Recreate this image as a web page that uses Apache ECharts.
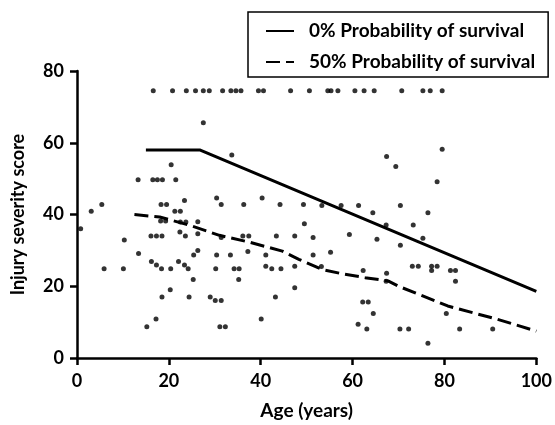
<!DOCTYPE html>
<html>
<head>
<meta charset="utf-8">
<script src="https://cdn.jsdelivr.net/npm/echarts@6/dist/echarts.min.js"></script>
<style>
  html, body { margin: 0; padding: 0; background: #fff; }
  #chart { width: 555px; height: 425px; }
</style>
</head>
<body>
<div id="chart"></div>
<script>
// patients: age (years) and injury severity score
var patientAge = [
    16.6, 20.8, 23.8, 25.8, 27.5, 28.8, 31.7, 33.5, 34.6, 35.7, 39.5, 40.6, 46.5, 50.6, 54.6, 55.3, 56.8, 60.5, 62.5, 64.7, 70.7, 75.3, 76.9, 79.5,
    27.5, 33.7, 20.5, 13.3, 16.5, 17.5, 18.6, 21.5,
    5.4, 18.3, 19.5, 31.4, 36.3, 44.2, 49.3, 23.4, 30.4, 40.3,
    3.1, 21.3, 22.5, 0.8, 18.2, 19.3, 22.5, 23.7, 26.3, 22.4, 26.3,
    16.1, 17.3, 18.5, 23.6, 31.4, 36.1, 37.4, 43.4, 47.4, 49.5, 10.3,
    26.3, 37.2, 13.4, 25.4, 30.4, 33.4, 41.1, 16.2, 22.1, 17.3, 23.4, 41.1, 47.4,
    5.9, 10.1, 18.4, 20.4, 24.2, 30.2, 34.2, 35.3, 42.4, 44.4,
    25.3, 35.2, 47.4, 20.3, 18.5, 24.4, 29.0, 43.2, 30.1, 31.4, 17.2, 40.1, 15.2, 31.1, 32.3,
    67.4, 69.4, 79.5, 78.4, 53.3, 57.5, 61.3, 70.4, 64.4, 76.4, 67.3, 73.2,
    59.3, 51.4, 65.3, 75.3, 70.4, 55.2, 51.4, 53.2, 73.0, 74.3, 77.2, 78.4,
    62.3, 77.2, 81.3, 82.4, 67.4, 67.3, 82.4, 62.2, 63.4, 64.5, 80.4, 61.2,
    63.1, 70.3, 72.2, 83.3, 90.5, 76.4
];
var patientIss = [
    74.5, 74.5, 74.5, 74.5, 74.5, 74.5, 74.5, 74.5, 74.5, 74.5, 74.5, 74.5, 74.5, 74.5, 74.5, 74.5, 74.5, 74.5, 74.5, 74.5, 74.5, 74.5, 74.5, 74.5,
    65.6, 56.6, 53.9, 49.7, 49.7, 49.7, 49.7, 49.7,
    42.8, 42.8, 42.8, 42.8, 42.8, 42.8, 42.8, 43.9, 44.6, 44.6,
    40.9, 40.9, 40.9, 36.0, 38.2, 38.2, 37.9, 37.9, 38.0, 35.1, 34.6,
    34.0, 34.0, 34.0, 34.0, 33.6, 34.0, 34.0, 34.0, 34.0, 37.4, 32.9,
    30.0, 29.7, 29.1, 28.7, 28.7, 28.7, 28.7, 26.9, 26.9, 25.9, 25.9, 25.6, 25.6,
    24.9, 24.9, 24.9, 24.9, 24.9, 24.9, 24.9, 24.9, 24.9, 24.9,
    21.9, 21.9, 19.6, 19.0, 17.0, 17.0, 17.0, 17.0, 16.0, 16.0, 10.9, 10.9, 8.7, 8.7, 8.7,
    56.2, 53.4, 58.2, 49.1, 42.5, 42.5, 42.5, 42.5, 40.5, 40.5, 37.1, 37.1,
    34.4, 33.6, 33.1, 33.4, 31.4, 29.5, 28.7, 25.5, 25.6, 25.6, 25.6, 25.6,
    24.4, 24.4, 24.4, 24.4, 23.6, 21.4, 21.4, 15.6, 15.6, 12.4, 12.4, 9.4,
    8.1, 8.1, 8.1, 8.1, 8.1, 4.1
];

// 0% probability of survival
var solidAge = [15, 26.7, 100];
var solidIss = [58, 58, 18.6];

// 50% probability of survival
var dashedAge = [12.5, 18, 24.5, 31, 37.5, 44.7, 48.3, 53.3, 57.6, 62.7, 67.7, 70, 80.7, 91.5, 100];
var dashedIss = [40, 39.3, 37, 34.2, 32.3, 29.8, 27.5, 24.7, 23.5, 22.4, 21.5, 20, 14.5, 10.8, 7.5];

var seriesNames = ['0% Probability of survival', '50% Probability of survival'];
var xTicks = { min: 0, max: 100, step: 20 };
var yTicks = { min: 0, max: 80, step: 20 };

function pairs(xs, ys) {
    return xs.map(function (x, i) { return [x, ys[i]]; });
}

var font = 'Lato';
var chart = echarts.init(document.getElementById('chart'), null, { renderer: 'canvas' });

var option = {
    backgroundColor: '#fff',
    animation: false,
    textStyle: { fontFamily: font, color: '#000' },
    grid: { left: 77, right: 14, top: 71, bottom: 66 },
    legend: {
        data: seriesNames,
        orient: 'vertical',
        left: 248,
        top: 12,
        padding: [9, 13, 5, 17],
        itemWidth: 28,
        itemHeight: 14,
        itemGap: 11,
        borderColor: '#000',
        borderWidth: 1.5,
        borderRadius: 0,
        selectedMode: false,
        // hide the point marker, keep only the line sample
        itemStyle: { color: 'rgba(0,0,0,0)', borderWidth: 0 },
        textStyle: {
            fontFamily: font,
            fontSize: 19,
            fontWeight: 'bold',
            color: '#000',
            lineHeight: 20,
            padding: [0, 0, 0, 10]
        }
    },
    xAxis: {
        type: 'value',
        min: xTicks.min,
        max: xTicks.max,
        interval: xTicks.step,
        name: 'Age (years)',
        nameLocation: 'middle',
        nameGap: 43,
        nameTextStyle: { fontFamily: font, fontSize: 19, fontWeight: 'bold', color: '#000' },
        splitLine: { show: false },
        axisLine: { lineStyle: { color: '#000', width: 2.5 } },
        axisTick: { length: 7, lineStyle: { color: '#000', width: 2.5 } },
        axisLabel: { margin: 14, fontFamily: font, fontSize: 18, fontWeight: 'bold', color: '#000' }
    },
    yAxis: {
        type: 'value',
        min: yTicks.min,
        max: yTicks.max,
        interval: yTicks.step,
        name: 'Injury severity score',
        nameLocation: 'middle',
        nameGap: 50,
        nameTextStyle: { fontFamily: font, fontSize: 18, fontWeight: 'bold', color: '#000' },
        splitLine: { show: false },
        axisLine: { lineStyle: { color: '#000', width: 2.5 } },
        axisTick: { length: 7, lineStyle: { color: '#000', width: 2.5 } },
        axisLabel: { margin: 13, fontFamily: font, fontSize: 18, fontWeight: 'bold', color: '#000' }
    },
    series: [
        {
            name: 'patients',
            type: 'scatter',
            symbol: 'circle',
            symbolSize: 5,
            itemStyle: { color: '#000' },
            data: pairs(patientAge, patientIss)
        },
        {
            name: seriesNames[0],
            type: 'line',
            symbol: 'none',
            itemStyle: { color: '#000' },
            lineStyle: { color: '#000', width: 3 },
            data: pairs(solidAge, solidIss)
        },
        {
            name: seriesNames[1],
            type: 'line',
            symbol: 'none',
            itemStyle: { color: '#000' },
            lineStyle: { color: '#000', width: 3, type: [14, 6] },
            data: pairs(dashedAge, dashedIss)
        }
    ]
};
chart.setOption(option);
</script>
</body>
</html>
